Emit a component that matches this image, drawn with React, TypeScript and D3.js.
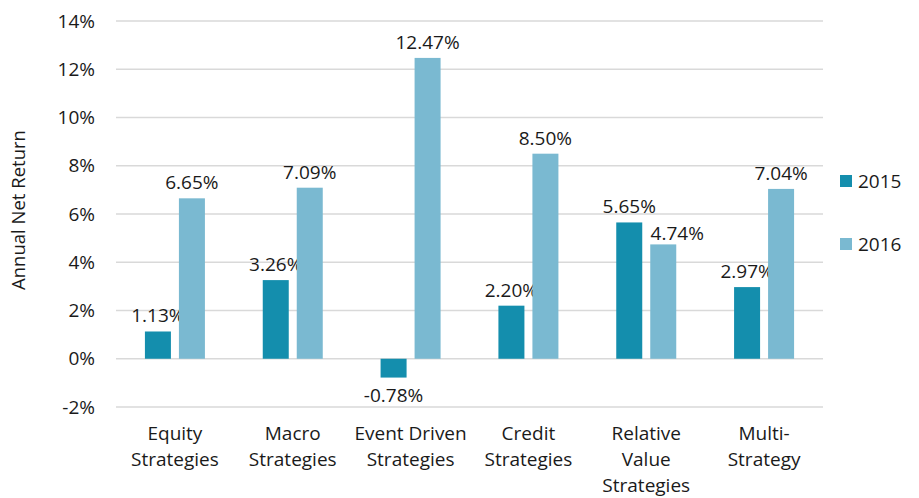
import React from "react";
import * as d3 from "d3";

const categories = [
  ["Equity", "Strategies"],
  ["Macro", "Strategies"],
  ["Event Driven", "Strategies"],
  ["Credit", "Strategies"],
  ["Relative", "Value", "Strategies"],
  ["Multi-", "Strategy"],
];
const series2015 = [1.13, 3.26, -0.78, 2.2, 5.65, 2.97];
const series2016 = [6.65, 7.09, 12.47, 8.5, 4.74, 7.04];
const seriesNames = ["2015", "2016"];
const colors = ["#148EAD", "#7AB9D1"];
const yTicks = [-2, 0, 2, 4, 6, 8, 10, 12, 14];

const W = 919;
const H = 498;
const FONT = "'Open Sans', sans-serif";

export default function App() {
  const x = d3.scaleBand<number>().domain(d3.range(categories.length)).range([116, 823]);
  const y = d3.scaleLinear().domain([-2, 14]).range([407, 21]);
  const barW = 26;
  const gap = 8;
  const all = [series2015, series2016];

  return (
    <svg width={W} height={H} style={{ position: "absolute", left: 0, top: 0 }} fontFamily={FONT}>
      <rect width={W} height={H} fill="#fff" />
      {yTicks.map((t) => (
        <g key={t}>
          <line x1={116} x2={823} y1={y(t)} y2={y(t)} stroke="#d9d9d9" strokeWidth={1.5} />
          <text x={95} y={y(t)} dy="0.35em" textAnchor="end" fontSize={19} fill="#1a1a1a">
            {t}%
          </text>
        </g>
      ))}
      <text
        transform={`translate(25,${210}) rotate(-90)`}
        textAnchor="middle"
        fontSize={18.5}
        fill="#1a1a1a"
      >
        Annual Net Return
      </text>
      {categories.map((c, i) => {
        const cx = (x(i) as number) + x.bandwidth() / 2;
        return (
          <g key={i}>
            {all.map((s, k) => {
              const v = s[i];
              const bx = k === 0 ? cx - gap / 2 - barW : cx + gap / 2;
              const top = Math.min(y(v), y(0));
              const h = Math.abs(y(v) - y(0));
              let lx = bx + barW / 2;
              let ly = v >= 0 ? y(v) - 9 : y(v) + 24;
              // the one label nudged right to avoid overlapping its neighbour
              if (i === 4 && k === 1) {
                lx = bx + 27;
                ly = y(v) - 4;
              }
              return (
                <g key={k}>
                  <rect x={bx} y={top} width={barW} height={h} fill={colors[k]} />
                  <text x={lx} y={ly} textAnchor="middle" fontSize={19} fill="#1a1a1a">
                    {v.toFixed(2)}%
                  </text>
                </g>
              );
            })}
            {c.map((line, j) => (
              <text key={j} x={cx} y={440 + j * 26} textAnchor="middle" fontSize={19} fill="#1a1a1a">
                {line}
              </text>
            ))}
          </g>
        );
      })}
      {seriesNames.map((n, k) => (
        <g key={n}>
          <rect x={840} y={175 + k * 63} width={12} height={12} fill={colors[k]} />
          <text x={858} y={181 + k * 63} dy="0.35em" fontSize={19} fill="#1a1a1a">
            {n}
          </text>
        </g>
      ))}
    </svg>
  );
}
